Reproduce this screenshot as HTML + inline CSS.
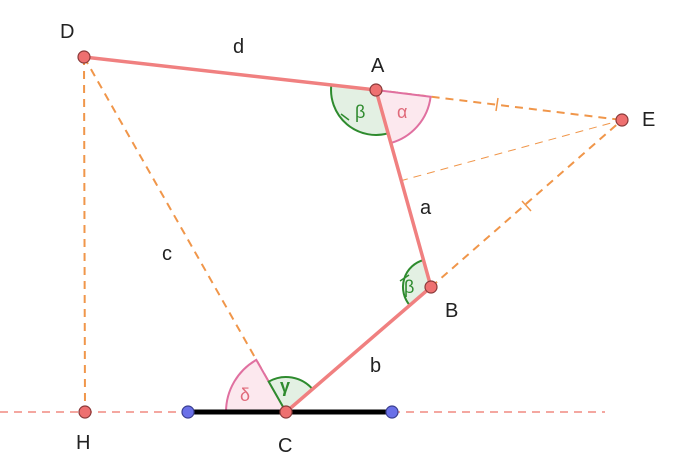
<!DOCTYPE html><html><head><style>body{margin:0;background:#fff}svg{display:block}text{font-family:"Liberation Sans",sans-serif;font-size:20px;fill:#222}</style></head><body>
<svg width="680" height="464" viewBox="0 0 680 464">
<line x1="0" y1="412" x2="605" y2="412" stroke="#f08a80" stroke-width="1.5" stroke-dasharray="8,6"/>
<g stroke="#f0964a" stroke-width="2" stroke-dasharray="8,6" fill="none">
<line x1="84" y1="57" x2="85" y2="412"/>
<line x1="84" y1="57" x2="286" y2="412"/>
<line x1="376" y1="90" x2="622" y2="120"/>
<line x1="431" y1="287" x2="622" y2="120"/>
<line x1="400" y1="181" x2="622" y2="120" stroke-width="1"/>
</g>
<g stroke="#f0964a" stroke-width="1.5"><line x1="498" y1="98" x2="496" y2="111"/><line x1="522" y1="201" x2="531" y2="211"/></g>
<path d="M376,90 L331.3,85 A45,45 0 0 0 388.1,133.3 Z" fill="#e3f0e3" stroke="#2e8b2e" stroke-width="2"/>
<path d="M376,90 L390.8,143 A55,55 0 0 0 430.6,96.7 Z" fill="#fce8ee" stroke="#e070a0" stroke-width="2"/>
<path d="M431,287 L423.5,260 A28,28 0 0 0 409.8,305.3 Z" fill="#e3f0e3" stroke="#2e8b2e" stroke-width="2"/>
<path d="M286,412 L226,412 A60,60 0 0 1 256.3,359.9 Z" fill="#fce8ee" stroke="#e070a0" stroke-width="2"/>
<path d="M286,412 L268.7,381.6 A35,35 0 0 1 312.5,389.1 Z" fill="#e3f0e3" stroke="#2e8b2e" stroke-width="2"/>
<g stroke="#2e8b2e" stroke-width="1.5"><line x1="341" y1="114" x2="349" y2="120"/><line x1="400" y1="281" x2="409" y2="275"/></g>
<polyline points="84,57 376,90 431,287 286,412" fill="none" stroke="#f08080" stroke-width="3.5"/>
<line x1="188" y1="412" x2="392" y2="412" stroke="#000" stroke-width="5"/>
<g fill="#ee7070" stroke="#8a3a3a" stroke-width="1.2">
<circle cx="84" cy="57" r="6"/><circle cx="376" cy="90" r="6"/><circle cx="622" cy="120" r="6"/><circle cx="431" cy="287" r="6"/><circle cx="85" cy="412" r="6"/><circle cx="286" cy="412" r="6"/></g>
<g fill="#6a70e8" stroke="#3a3f90" stroke-width="1.2"><circle cx="188" cy="412" r="6"/><circle cx="392" cy="412" r="6"/></g>
<text x="60" y="38">D</text><text x="371" y="72">A</text><text x="642" y="126">E</text><text x="445" y="317">B</text><text x="76" y="449">H</text><text x="278" y="452">C</text>
<text x="233" y="53">d</text><text x="420" y="214">a</text><text x="162" y="260">c</text><text x="370" y="372">b</text>
<text x="355" y="118" style="fill:#2e8b2e;font-size:18px">β</text>
<text x="397" y="118" style="fill:#e06a7a;font-size:18px">α</text>
<text x="404" y="293" style="fill:#2e8b2e;font-size:18px">β</text>
<text x="280" y="392" style="fill:#2e8b2e;font-size:18px;font-weight:bold">γ</text>
<text x="240" y="401" style="fill:#e06a7a;font-size:18px">δ</text>
</svg></body></html>
